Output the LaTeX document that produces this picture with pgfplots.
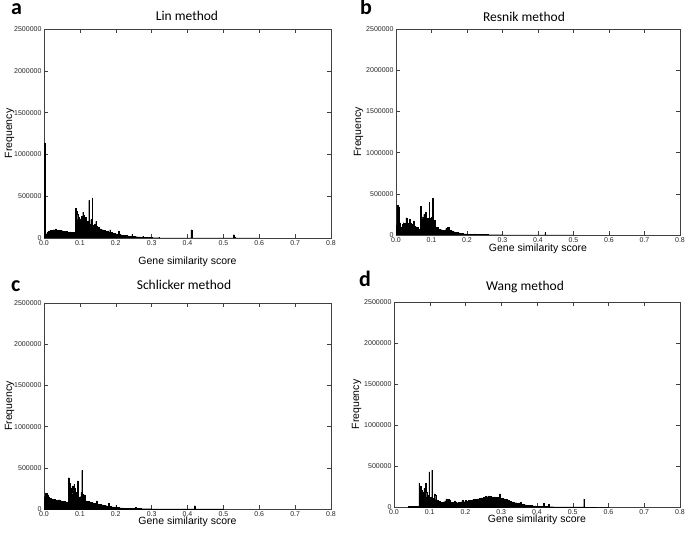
\documentclass[border=0pt]{standalone}
\usepackage{pgfplots}
\pgfplotsset{compat=1.18}
\usepackage{fontspec}
\setmainfont{Liberation Sans}
\newfontfamily\titlefont{Carlito}
\pgfplotsset{
  hist/.style={
    scale only axis,
    xmin=0, xmax=0.8, ymin=0, ymax=2500000,
    xtick={0,0.1,0.2,0.3,0.4,0.5,0.6,0.7,0.8},
    ytick={0,500000,1000000,1500000,2000000,2500000},
    scaled y ticks=false, scaled x ticks=false,
    xticklabel style={/pgf/number format/.cd, fixed, fixed zerofill, precision=1, assume math mode=true},
    yticklabel style={/pgf/number format/.cd, fixed, 1000 sep={}, assume math mode=true},
    tick label style={font=\fontsize{7}{8}\selectfont, text=black!85},
    label style={font=\fontsize{10.5}{12}\selectfont},
    xlabel={Gene similarity score},
    ylabel={Frequency},
    tick align=inside, tick pos=both,
    major tick length=4pt,
    every tick/.style={black!75, line width=0.5pt},
    axis line style={black!75, line width=0.7pt},
    xticklabel shift=-1pt,
    yticklabel shift=-1pt,
  },
  histplot/.style={const plot, fill=black, draw=black, line width=0.25pt},
}
\begin{document}
\begin{tikzpicture}
\useasboundingbox (0pt,0pt) rectangle (685pt,533pt);
% ---------------- a: Lin ----------------
\begin{axis}[hist, at={(44pt,295pt)}, anchor=south west, width=287pt, height=209pt,
  xlabel style={yshift=-5pt}, ylabel style={yshift=-7pt}]
\addplot[histplot] coordinates {
(0,230000)(0.0008,1140000)(0.0032,230000)(0.0045,30000)(0.006,50000)(0.008,65000)(0.011,80000)(0.014,85000)(0.017,90000)
(0.020,88000)(0.023,95000)(0.026,100000)(0.029,97000)(0.032,102000)(0.035,95000)(0.038,98000)(0.041,90000)
(0.044,92000)(0.047,85000)(0.050,88000)(0.053,80000)(0.056,82000)(0.059,75000)(0.062,78000)(0.065,72000)
(0.068,70000)(0.071,72000)(0.074,68000)(0.077,70000)(0.080,65000)(0.083,68000)(0.086,66000)
(0.088,355000)(0.090,320000)(0.092,280000)(0.094,220000)(0.096,250000)(0.098,190000)(0.100,230000)
(0.102,170000)(0.104,260000)(0.106,200000)(0.108,310000)(0.110,270000)(0.112,230000)(0.114,180000)
(0.116,250000)(0.118,160000)(0.120,200000)(0.122,140000)(0.1245,450000)(0.1255,170000)(0.128,150000)
(0.130,220000)(0.132,140000)(0.1345,480000)(0.1355,150000)(0.138,130000)(0.140,160000)(0.142,120000)
(0.144,200000)(0.146,140000)(0.148,110000)(0.150,130000)(0.153,100000)(0.156,110000)(0.159,90000)
(0.162,100000)(0.165,85000)(0.168,95000)(0.171,80000)(0.174,75000)(0.177,85000)(0.180,70000)
(0.183,100000)(0.185,65000)(0.189,60000)(0.192,55000)(0.195,58000)(0.198,50000)(0.201,48000)
(0.204,45000)(0.207,80000)(0.209,42000)(0.212,40000)(0.215,38000)(0.218,35000)(0.221,33000)
(0.224,30000)(0.227,28000)(0.230,30000)(0.233,25000)(0.236,23000)(0.239,22000)(0.242,20000)
(0.245,45000)(0.247,18000)(0.250,17000)(0.255,15000)(0.260,13000)(0.265,12000)(0.270,10000)
(0.275,22000)(0.277,9000)(0.280,8000)(0.285,7000)(0.290,6000)(0.295,5000)(0.300,4000)(0.310,3000)
(0.320,10000)(0.322,2500)(0.330,2000)(0.350,1500)(0.380,1000)(0.4095,100000)(0.4115,800)(0.450,500)
(0.528,40000)(0.5305,15000)(0.533,300)(0.600,0)
} \closedcycle;
\end{axis}
% ---------------- b: Resnik ----------------
\begin{axis}[hist, at={(396pt,298pt)}, anchor=south west, width=284pt, height=206pt,
  xlabel style={yshift=5pt}, ylabel style={yshift=-4pt}]
\addplot[histplot] coordinates {
(0,120000)(0.002,360000)(0.005,280000)(0.007,340000)(0.010,150000)(0.012,80000)(0.015,100000)
(0.018,130000)(0.020,150000)(0.023,140000)(0.025,120000)(0.028,210000)(0.030,140000)(0.033,135000)
(0.035,130000)(0.038,190000)(0.040,140000)(0.043,130000)(0.045,120000)(0.048,170000)(0.050,110000)
(0.053,105000)(0.055,100000)(0.058,95000)(0.060,90000)(0.063,70000)(0.065,60000)
(0.068,350000)(0.070,300000)(0.072,220000)(0.075,200000)(0.078,250000)(0.080,180000)(0.083,280000)
(0.085,160000)(0.088,200000)(0.090,150000)(0.093,400000)(0.0945,200000)(0.097,150000)(0.100,220000)
(0.103,450000)(0.1045,130000)(0.107,180000)(0.110,100000)(0.113,95000)(0.115,90000)(0.118,80000)
(0.120,70000)(0.125,65000)(0.130,60000)(0.135,55000)(0.140,80000)(0.145,90000)(0.150,60000)
(0.155,50000)(0.160,40000)(0.165,35000)(0.170,30000)(0.175,25000)(0.180,20000)(0.185,17000)
(0.190,15000)(0.195,13000)(0.200,12000)(0.205,11000)(0.210,10000)(0.220,15000)(0.223,8000)
(0.230,8000)(0.240,6000)(0.250,10000)(0.253,5000)(0.260,4500)(0.280,3500)(0.300,3000)(0.320,2000)
(0.350,1500)(0.380,1000)(0.419,30000)(0.4205,500)(0.500,0)
} \closedcycle;
\end{axis}
% ---------------- c: Schlicker ----------------
\begin{axis}[hist, at={(44pt,24pt)}, anchor=south west, width=287pt, height=206pt,
  xlabel style={yshift=6pt}, ylabel style={yshift=-7pt}]
\addplot[histplot] coordinates {
(0,150000)(0.003,190000)(0.008,170000)(0.012,150000)(0.015,130000)(0.020,120000)(0.025,115000)
(0.030,110000)(0.035,105000)(0.040,110000)(0.045,100000)(0.050,95000)(0.055,90000)(0.060,85000)
(0.065,80000)(0.068,380000)(0.070,320000)(0.072,250000)(0.075,200000)(0.078,280000)(0.080,180000)
(0.083,300000)(0.085,250000)(0.088,200000)(0.090,150000)(0.093,340000)(0.0945,130000)(0.097,140000)
(0.100,150000)(0.103,200000)(0.105,470000)(0.1065,180000)(0.109,150000)(0.112,170000)(0.115,100000)
(0.118,95000)(0.120,90000)(0.125,85000)(0.130,80000)(0.135,75000)(0.140,70000)(0.145,100000)
(0.148,65000)(0.150,60000)(0.155,55000)(0.160,50000)(0.165,45000)(0.170,40000)(0.175,35000)
(0.180,70000)(0.182,30000)(0.186,28000)(0.190,25000)(0.195,22000)(0.200,45000)(0.202,20000)
(0.205,18000)(0.210,15000)(0.215,13000)(0.220,12000)(0.225,11000)(0.230,10000)(0.240,8000)
(0.250,7000)(0.255,20000)(0.257,5000)(0.270,4000)(0.300,3000)(0.330,2000)(0.370,1200)(0.419,40000)
(0.4205,500)(0.500,0)
} \closedcycle;
\end{axis}
% ---------------- d: Wang ----------------
\begin{axis}[hist, at={(394pt,26pt)}, anchor=south west, width=286pt, height=205pt,
  xlabel style={yshift=6pt}, ylabel style={yshift=-4pt}]
\addplot[histplot] coordinates {
(0.040,5000)(0.045,6000)(0.050,5000)(0.055,7000)(0.060,6000)(0.065,8000)
(0.0695,290000)(0.0715,260000)(0.0735,250000)(0.0755,170000)(0.0775,200000)(0.0795,160000)
(0.0815,180000)(0.0835,230000)(0.0855,150000)(0.0875,290000)(0.0895,180000)(0.0915,120000)
(0.0935,140000)(0.0955,110000)(0.0978,430000)(0.0990,120000)(0.1010,110000)(0.1030,115000)
(0.1053,450000)(0.1065,110000)(0.1085,100000)(0.1105,105000)(0.1125,160000)(0.1145,150000)
(0.1165,90000)(0.1185,85000)(0.1205,80000)(0.1225,70000)(0.1245,65000)(0.1270,70000)(0.1300,60000)
(0.1330,55000)(0.1360,60000)(0.1390,65000)(0.1420,75000)(0.1450,100000)(0.1480,90000)(0.1510,95000)
(0.1540,80000)(0.1570,65000)(0.1600,60000)(0.1630,50000)(0.1660,55000)(0.1690,75000)(0.1720,55000)
(0.1750,50000)(0.1780,55000)(0.1810,60000)(0.1840,58000)(0.1870,62000)(0.1900,80000)(0.1930,60000)
(0.1960,65000)(0.1990,78000)(0.2020,70000)(0.2050,72000)(0.2080,80000)(0.2110,75000)(0.2140,85000)
(0.2170,80000)(0.2200,90000)(0.2230,85000)(0.2260,95000)(0.2290,92000)(0.2320,100000)(0.2350,98000)
(0.2380,105000)(0.2410,100000)(0.2440,110000)(0.2470,108000)(0.2500,115000)(0.2530,112000)
(0.2560,130000)(0.2590,118000)(0.2620,135000)(0.2650,120000)(0.2680,128000)(0.2710,115000)
(0.2740,125000)(0.2770,118000)(0.2800,122000)(0.2830,110000)(0.2860,120000)(0.2890,105000)
(0.2920,115000)(0.2950,160000)(0.2980,100000)(0.3010,105000)(0.3040,95000)(0.3070,98000)
(0.3100,85000)(0.3130,90000)(0.3160,75000)(0.3190,80000)(0.3220,68000)(0.3250,70000)(0.3280,60000)
(0.3310,62000)(0.3340,55000)(0.3370,50000)(0.3400,52000)(0.3430,45000)(0.3460,42000)(0.3490,40000)
(0.3520,55000)(0.3550,35000)(0.3580,32000)(0.3610,30000)(0.3640,28000)(0.3670,25000)(0.3700,24000)
(0.3730,22000)(0.3760,20000)(0.3790,18000)(0.3820,17000)(0.3850,16000)(0.3880,15000)(0.3910,14000)
(0.3940,13000)(0.3970,12000)(0.4000,11000)(0.4030,10000)(0.4060,9000)(0.4090,8000)(0.4120,7000)
(0.4150,6000)(0.4180,45000)(0.4195,6000)(0.4230,5500)(0.4260,5000)(0.4290,5000)(0.4320,35000)
(0.4335,4500)(0.4380,4000)(0.4420,3500)(0.4460,3000)(0.4500,2500)(0.4600,2000)(0.4700,1500)
(0.4800,1000)(0.4900,800)(0.5000,500)(0.5305,100000)(0.5320,0)(0.6000,0)
} \closedcycle;
\end{axis}
% titles and panel letters
\node[anchor=base, inner sep=0pt, font=\titlefont\fontsize{13.5}{15}\selectfont] at (187pt,512pt) {Lin method};
\node[anchor=base, inner sep=0pt, font=\titlefont\fontsize{13.5}{15}\selectfont] at (524pt,511pt) {Resnik method};
\node[anchor=base, inner sep=0pt, font=\titlefont\fontsize{13.5}{15}\selectfont] at (184pt,243pt) {Schlicker method};
\node[anchor=base, inner sep=0pt, font=\titlefont\fontsize{13.5}{15}\selectfont] at (525pt,242pt) {Wang method};
\node[anchor=base west, inner sep=0pt, font=\titlefont\bfseries\fontsize{22}{24}\selectfont] at (11pt,518pt) {a};
\node[anchor=base west, inner sep=0pt, font=\titlefont\bfseries\fontsize{22}{24}\selectfont] at (360pt,518pt) {b};
\node[anchor=base west, inner sep=0pt, font=\titlefont\bfseries\fontsize{22}{24}\selectfont] at (11pt,241pt) {c};
\node[anchor=base west, inner sep=0pt, font=\titlefont\bfseries\fontsize{22}{24}\selectfont] at (359pt,246pt) {d};
\end{tikzpicture}
\end{document}
